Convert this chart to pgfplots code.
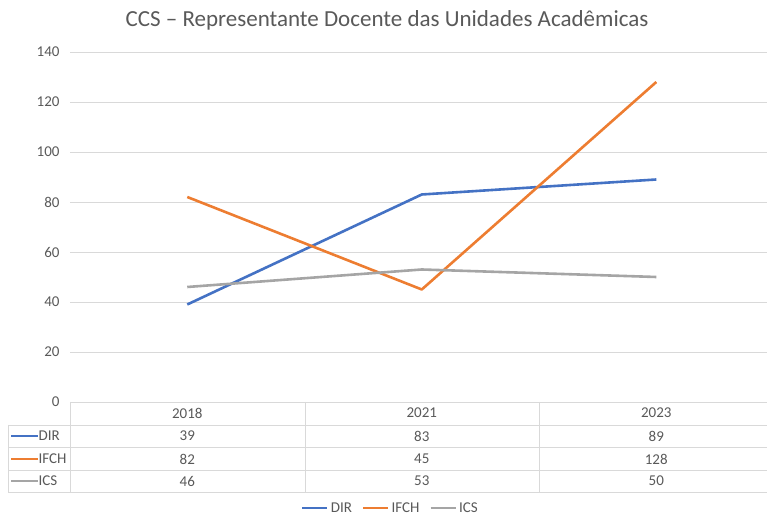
\documentclass[border=0pt]{standalone}
\usepackage{pgfplots}
\pgfplotsset{compat=1.18}
\usepackage{fontspec}
\setmainfont{Carlito}
\definecolor{cdir}{HTML}{4472C4}
\definecolor{cifch}{HTML}{ED7D31}
\definecolor{cics}{HTML}{A5A5A5}
\definecolor{txt}{HTML}{595959}
\definecolor{grd}{HTML}{D9D9D9}
\begin{document}
\begin{tikzpicture}[x=1bp,y=1bp]
\useasboundingbox (0,0) rectangle (767,517);
\begin{axis}[
    at={(70bp,115bp)}, anchor=south west,
    scale only axis,
    width=697bp, height=350bp,
    xmin=-0.5, xmax=2.472,
    ymin=0, ymax=140,
    ytick={0,20,...,140},
    xtick={0,1,2}, xticklabels={},
    axis line style={draw=none},
    ymajorgrids, grid style={grd, line width=0.8bp},
    major tick length=0pt,
    tick label style={font=\fontsize{15bp}{17bp}\selectfont, text=txt},
    /pgf/number format/assume math mode=true,
    yticklabel style={xshift=-7bp},
    clip=false,
    legend columns=3,
    legend style={at={(0.459,-0.303)}, anchor=center, draw=none, fill=none,
        font=\fontsize{15bp}{17bp}\selectfont, text=txt, inner sep=0pt,
        nodes={inner sep=1bp, text depth=0pt},
        /tikz/every odd column/.append style={column sep=1bp},
        /tikz/every even column/.append style={column sep=9bp}},
    legend image code/.code={\draw[#1] (0bp,0bp) -- (25bp,0bp);},
    every axis plot/.append style={line width=2.6bp, line join=round},
]
\addplot[cdir] coordinates {(0,39) (1,83) (2,89)};
\addplot[cifch] coordinates {(0,82) (1,45) (2,128)};
\addplot[cics] coordinates {(0,46) (1,53) (2,50)};
\legend{DIR, IFCH, ICS}
\end{axis}
% data table
\begin{scope}[draw=grd, line width=0.8bp]
  \draw (70,115) -- (767,115);
  \foreach \y in {92,70,47,25} \draw (8,\y) -- (767,\y);
  \draw (70,115) -- (70,25);
  \draw (305,115) -- (305,25);
  \draw (539,115) -- (539,25);
  \draw (8,92) -- (8,25);
\end{scope}
\begin{scope}[font=\fontsize{15bp}{17bp}\selectfont, text=txt]
  \node at (187.25,104) {2018};
  \node at (421.75,104) {2021};
  \node at (656.25,104) {2023};
  \foreach \yy/\c/\n/\a/\b/\cc in {81/cdir/DIR/39/83/89, 58/cifch/IFCH/82/45/128, 36/cics/ICS/46/53/50} {
    \draw[\c, line width=2.6bp] (11,\yy) -- (38,\yy);
    \node[anchor=west, inner sep=0pt] at (38.5,\yy) {\n};
    \node at (187.25,\yy) {\a};
    \node at (421.75,\yy) {\b};
    \node at (656.25,\yy) {\cc};
  }
\end{scope}
\node[font=\fontsize{23bp}{26bp}\selectfont, text=txt] at (387,497) {CCS – Representante Docente das Unidades Acadêmicas};
\end{tikzpicture}
\end{document}
